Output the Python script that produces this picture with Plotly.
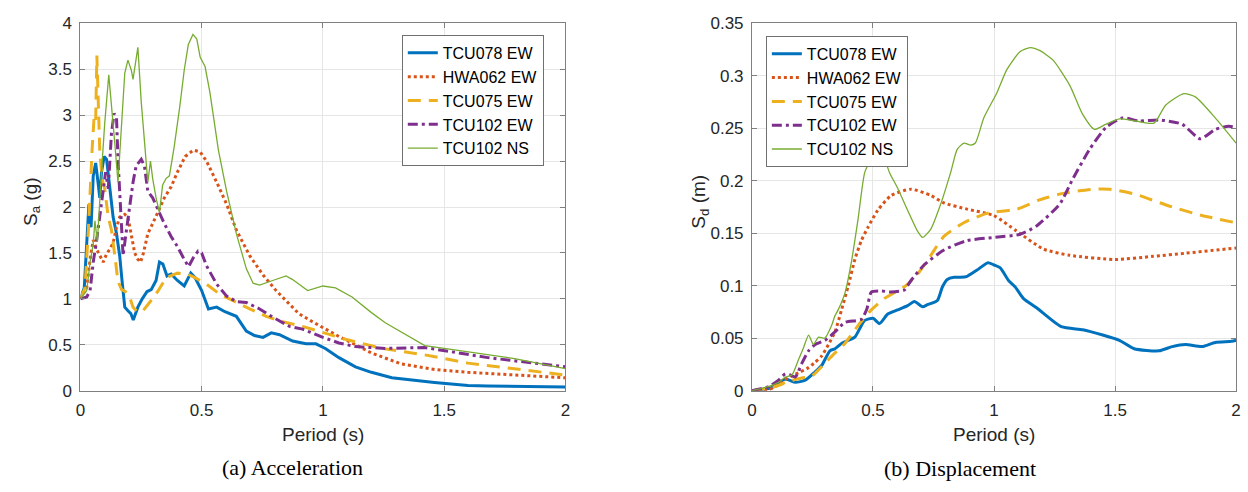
import plotly.graph_objects as go

# ---------------- (a) Spectral acceleration, Sa (g) ----------------
acc_t_tcu078ew = [0, 0.016, 0.035, 0.044, 0.053, 0.063, 0.074, 0.08, 0.087, 0.098, 0.108, 0.115,
                  0.121, 0.135, 0.149, 0.162, 0.172, 0.183, 0.196, 0.208, 0.218, 0.228, 0.237,
                  0.255, 0.275, 0.292, 0.312, 0.326, 0.34, 0.357, 0.374, 0.4, 0.428, 0.455, 0.473,
                  0.5, 0.528, 0.562, 0.596, 0.643, 0.684, 0.718, 0.753, 0.787, 0.821, 0.875, 0.93,
                  0.971, 1.01, 1.066, 1.134, 1.2, 1.284, 1.46, 1.598, 1.68, 2.0]
acc_tcu078ew = [1.0, 1.12, 2.03, 1.78, 2.34, 2.48, 2.24, 2.1, 2.38, 2.55, 2.52, 2.34,
                2.17, 1.89, 1.71, 1.47, 1.19, 0.91, 0.87, 0.84, 0.77, 0.84, 0.91,
                1.0, 1.08, 1.1, 1.2, 1.4, 1.38, 1.25, 1.27, 1.2, 1.14, 1.28, 1.23,
                1.09, 0.89, 0.91, 0.86, 0.81, 0.65, 0.6, 0.58, 0.63, 0.61, 0.54, 0.51,
                0.51, 0.46, 0.36, 0.26, 0.2, 0.14, 0.09, 0.056, 0.05, 0.04]

acc_t_hwa062ew = [0, 0.026, 0.04, 0.053, 0.067, 0.08, 0.094, 0.108, 0.121, 0.135, 0.149, 0.162,
                  0.183, 0.196, 0.21, 0.224, 0.237, 0.248, 0.26, 0.278, 0.298, 0.319, 0.346,
                  0.374, 0.4, 0.432, 0.466, 0.494, 0.52, 0.562, 0.603, 0.643, 0.698, 0.753,
                  0.807, 0.848, 0.9, 0.957, 1.01, 1.066, 1.134, 1.2, 1.325, 1.46, 1.598, 1.734, 2.0]
acc_hwa062ew = [1.0, 1.12, 1.43, 1.64, 1.54, 1.47, 1.4, 1.49, 1.54, 1.61, 1.78, 1.89,
                1.92, 1.89, 1.68, 1.5, 1.43, 1.4, 1.5, 1.71, 1.82, 1.94, 2.1,
                2.22, 2.38, 2.55, 2.62, 2.6, 2.5, 2.27, 2.03, 1.75, 1.47, 1.26,
                1.09, 0.98, 0.84, 0.75, 0.67, 0.59, 0.5, 0.41, 0.29, 0.23, 0.2, 0.18, 0.14]

acc_t_tcu075ew = [0, 0.019, 0.033, 0.044, 0.049, 0.057, 0.063, 0.068, 0.074, 0.08, 0.09, 0.1,
                  0.115, 0.128, 0.142, 0.155, 0.17, 0.185, 0.203, 0.217, 0.234, 0.258, 0.285,
                  0.319, 0.353, 0.4, 0.442, 0.466, 0.52, 0.575, 0.63, 0.698, 0.766, 0.834,
                  0.916, 1.0, 1.093, 1.243, 1.42, 1.598, 1.87, 2.0]
acc_tcu075ew = [1.0, 1.12, 1.75, 2.48, 2.66, 3.0, 2.95, 3.65, 3.0, 2.6, 2.3, 2.2,
                1.89, 1.75, 1.47, 1.19, 1.1, 1.08, 1.02, 0.91, 0.86, 0.87, 0.96,
                1.08, 1.23, 1.28, 1.27, 1.24, 1.16, 1.05, 0.98, 0.89, 0.81, 0.75,
                0.7, 0.63, 0.56, 0.46, 0.39, 0.3, 0.21, 0.17]

acc_t_tcu102ew = [0, 0.026, 0.04, 0.053, 0.067, 0.08, 0.094, 0.104, 0.115, 0.128, 0.139, 0.149,
                  0.155, 0.166, 0.176, 0.19, 0.203, 0.217, 0.23, 0.251, 0.264, 0.271, 0.278,
                  0.298, 0.326, 0.346, 0.374, 0.4, 0.428, 0.446, 0.466, 0.485, 0.5, 0.52,
                  0.562, 0.603, 0.643, 0.684, 0.739, 0.793, 0.862, 0.916, 1.0, 1.066, 1.134,
                  1.257, 1.42, 1.53, 1.68, 1.87, 2.0]
acc_tcu102ew = [1.0, 1.02, 1.09, 1.4, 1.64, 1.89, 2.17, 2.38, 2.2, 2.8, 3.02, 2.97,
                2.52, 1.96, 1.47, 1.75, 2.03, 2.27, 2.45, 2.52, 2.45, 2.31, 2.17,
                2.1, 1.94, 1.82, 1.68, 1.57, 1.43, 1.35, 1.45, 1.52, 1.5, 1.36,
                1.16, 1.03, 0.97, 0.96, 0.89, 0.8, 0.7, 0.67, 0.58, 0.52, 0.48,
                0.46, 0.47, 0.42, 0.36, 0.3, 0.26]

acc_t_tcu102ns = [0, 0.026, 0.04, 0.053, 0.06, 0.07, 0.085, 0.1, 0.117, 0.128, 0.142, 0.155,
                  0.169, 0.183, 0.196, 0.21, 0.217, 0.23, 0.237, 0.251, 0.264, 0.278, 0.289,
                  0.298, 0.312, 0.326, 0.339, 0.353, 0.367, 0.387, 0.41, 0.428, 0.445, 0.464,
                  0.48, 0.494, 0.514, 0.534, 0.569, 0.603, 0.643, 0.684, 0.712, 0.739, 0.793,
                  0.848, 0.875, 0.937, 1.0, 1.052, 1.12, 1.2, 1.257, 1.42, 1.5, 1.68, 1.79, 2.0]
acc_tcu102ns = [1.0, 1.09, 1.4, 1.6, 1.85, 1.62, 2.3, 2.9, 3.44, 3.14, 2.69, 2.27,
                2.87, 3.46, 3.6, 3.49, 3.39, 3.6, 3.74, 3.14, 2.69, 2.27, 2.5,
                2.31, 2.1, 1.94, 2.24, 2.31, 2.34, 2.66, 3.1, 3.49, 3.77, 3.88,
                3.83, 3.63, 3.53, 3.25, 2.62, 2.17, 1.71, 1.33, 1.17, 1.15, 1.2,
                1.25, 1.21, 1.09, 1.14, 1.12, 1.02, 0.85, 0.74, 0.49, 0.46, 0.39, 0.35, 0.24]

# ---------------- (b) Spectral displacement, Sd (m) ----------------
dis_t_tcu078ew = [0, 0.083, 0.138, 0.179, 0.22, 0.261, 0.288, 0.322, 0.343, 0.37, 0.398, 0.425,
                  0.445, 0.466, 0.5, 0.527, 0.561, 0.602, 0.643, 0.671, 0.705, 0.725, 0.766,
                  0.787, 0.807, 0.835, 0.862, 0.889, 0.93, 0.975, 0.998, 1.026, 1.06, 1.087,
                  1.121, 1.176, 1.278, 1.367, 1.449, 1.518, 1.579, 1.682, 1.736, 1.791, 1.859,
                  1.914, 1.982, 2.0]
dis_tcu078ew = [0, 0.003, 0.011, 0.008, 0.01, 0.018, 0.024, 0.038, 0.04, 0.045, 0.048, 0.051,
                0.059, 0.067, 0.069, 0.064, 0.073, 0.077, 0.081, 0.085, 0.08, 0.082, 0.086,
                0.099, 0.106, 0.108, 0.108, 0.109, 0.115, 0.122, 0.12, 0.117, 0.105, 0.099,
                0.088, 0.079, 0.061, 0.058, 0.053, 0.048, 0.04, 0.038, 0.042, 0.044, 0.042,
                0.046, 0.047, 0.048]

dis_t_hwa062ew = [0, 0.07, 0.097, 0.124, 0.165, 0.2, 0.227, 0.261, 0.288, 0.316, 0.343, 0.37,
                  0.398, 0.425, 0.452, 0.48, 0.52, 0.575, 0.657, 0.739, 0.793, 0.889, 0.998,
                  1.094, 1.204, 1.313, 1.5, 1.658, 1.791, 2.0]
dis_hwa062ew = [0, 0.001, 0.004, 0.009, 0.014, 0.018, 0.021, 0.027, 0.033, 0.044, 0.056, 0.077,
                0.1, 0.125, 0.143, 0.156, 0.172, 0.186, 0.192, 0.186, 0.179, 0.173, 0.167,
                0.152, 0.135, 0.129, 0.125, 0.128, 0.131, 0.136]

dis_t_tcu075ew = [0, 0.097, 0.152, 0.206, 0.247, 0.301, 0.343, 0.384, 0.438, 0.493, 0.548, 0.63,
                  0.684, 0.739, 0.793, 0.875, 0.971, 1.094, 1.19, 1.285, 1.408, 1.477, 1.586,
                  1.723, 1.859, 2.0]
dis_tcu075ew = [0, 0.004, 0.009, 0.012, 0.014, 0.026, 0.036, 0.045, 0.062, 0.077, 0.088, 0.099,
                0.111, 0.129, 0.147, 0.16, 0.169, 0.173, 0.182, 0.188, 0.192, 0.192, 0.187,
                0.176, 0.167, 0.16]

dis_t_tcu102ew = [0, 0.07, 0.11, 0.138, 0.158, 0.179, 0.206, 0.234, 0.261, 0.302, 0.343, 0.384,
                  0.452, 0.475, 0.493, 0.534, 0.575, 0.63, 0.657, 0.712, 0.793, 0.889, 0.998,
                  1.107, 1.176, 1.272, 1.326, 1.395, 1.463, 1.531, 1.6, 1.682, 1.777, 1.852,
                  1.914, 1.969, 2.0]
dis_tcu102ew = [0, 0.004, 0.01, 0.016, 0.015, 0.013, 0.026, 0.038, 0.044, 0.048, 0.056, 0.065,
                0.068, 0.078, 0.094, 0.095, 0.094, 0.096, 0.105, 0.12, 0.134, 0.143, 0.146,
                0.149, 0.157, 0.178, 0.202, 0.23, 0.251, 0.26, 0.257, 0.258, 0.254, 0.24,
                0.249, 0.252, 0.251]

dis_t_tcu102ns = [0, 0.07, 0.11, 0.138, 0.165, 0.193, 0.213, 0.234, 0.254, 0.275, 0.301, 0.329,
                  0.342, 0.356, 0.384, 0.411, 0.438, 0.466, 0.493, 0.518, 0.541, 0.568, 0.602,
                  0.643, 0.684, 0.705, 0.739, 0.78, 0.821, 0.848, 0.876, 0.903, 0.923, 0.958,
                  1.012, 1.053, 1.107, 1.149, 1.19, 1.244, 1.313, 1.367, 1.415, 1.463, 1.518,
                  1.586, 1.661, 1.709, 1.784, 1.832, 1.914, 2.0]
dis_tcu102ns = [0, 0.004, 0.008, 0.013, 0.015, 0.03, 0.041, 0.053, 0.044, 0.051, 0.05, 0.062,
                0.071, 0.077, 0.093, 0.123, 0.163, 0.208, 0.221, 0.23, 0.225, 0.208, 0.193,
                0.172, 0.152, 0.146, 0.154, 0.178, 0.208, 0.23, 0.236, 0.234, 0.236, 0.26,
                0.284, 0.306, 0.323, 0.327, 0.324, 0.315, 0.291, 0.263, 0.249, 0.254, 0.259,
                0.257, 0.255, 0.272, 0.283, 0.28, 0.26, 0.236]

series_names = ["TCU078 EW", "HWA062 EW", "TCU075 EW", "TCU102 EW", "TCU102 NS"]
colors = ["#0072BD", "#D95319", "#EDB120", "#7E2F8E", "#77AC30"]
dashes = ["solid", "3px,3px", "13px,8px", "10px,4px,3px,4px", "solid"]
widths = [3, 3, 3, 3, 1.3]

acc_series = [(acc_t_tcu078ew, acc_tcu078ew), (acc_t_hwa062ew, acc_hwa062ew),
              (acc_t_tcu075ew, acc_tcu075ew), (acc_t_tcu102ew, acc_tcu102ew),
              (acc_t_tcu102ns, acc_tcu102ns)]
dis_series = [(dis_t_tcu078ew, dis_tcu078ew), (dis_t_hwa062ew, dis_hwa062ew),
              (dis_t_tcu075ew, dis_tcu075ew), (dis_t_tcu102ew, dis_tcu102ew),
              (dis_t_tcu102ns, dis_tcu102ns)]

for t, v in acc_series + dis_series:
    assert len(t) == len(v), (len(t), len(v))

W, H = 1248, 492
fig = go.Figure()

for i, (t, v) in enumerate(acc_series):
    fig.add_trace(go.Scatter(
        x=t, y=v, mode="lines", name=series_names[i],
        line=dict(color=colors[i], width=widths[i], dash=dashes[i]),
        xaxis="x", yaxis="y", legend="legend"))

for i, (t, v) in enumerate(dis_series):
    fig.add_trace(go.Scatter(
        x=t, y=v, mode="lines", name=series_names[i],
        line=dict(color=colors[i], width=widths[i], dash=dashes[i], shape="spline", smoothing=0.6),
        xaxis="x2", yaxis="y2", legend="legend2"))

tick_font = dict(family="Liberation Sans, Arial, sans-serif", size=17, color="#262626")
axis_common = dict(
    showline=True, linecolor="#808080", linewidth=1, mirror="ticks",
    ticks="inside", ticklen=5, tickcolor="#808080", tickwidth=1,
    showgrid=True, gridcolor="#e6e6e6", gridwidth=1, zeroline=False,
    tickfont=tick_font,
)

yd = [1 - 397 / H, 1 - 15 / H]
fig.update_layout(
    width=W, height=H, autosize=False,
    margin=dict(l=0, r=0, t=0, b=0),
    paper_bgcolor="white", plot_bgcolor="white",
    xaxis=dict(domain=[76 / W, 565 / W], range=[0, 2], tickvals=[0, 0.5, 1, 1.5, 2],
               anchor="y", ticklabelstandoff=4, **axis_common),
    yaxis=dict(domain=yd, range=[0, 4], dtick=0.5, anchor="x", ticklabelstandoff=4, **axis_common),
    xaxis2=dict(domain=[753 / W, 1241 / W], range=[0, 2], tickvals=[0, 0.5, 1, 1.5, 2],
                anchor="y2", ticklabelstandoff=4, **axis_common),
    yaxis2=dict(domain=yd, range=[0, 0.35], dtick=0.05, anchor="x2", ticklabelstandoff=4,
                **axis_common),
    legend=dict(x=400 / W, y=1 - 27 / H, xanchor="left", yanchor="top",
                bgcolor="white", bordercolor="#707070", borderwidth=1,
                font=dict(family="Liberation Sans, Arial, sans-serif", size=16, color="#000000"),
                tracegroupgap=0),
    legend2=dict(x=767 / W, y=1 - 28 / H, xanchor="left", yanchor="top",
                 bgcolor="white", bordercolor="#707070", borderwidth=1,
                 font=dict(family="Liberation Sans, Arial, sans-serif", size=16, color="#000000"),
                 tracegroupgap=0),
    showlegend=True,
)

label_font = dict(family="Liberation Sans, Arial, sans-serif", size=19, color="#262626")
cap_font = dict(family="Liberation Serif, Times New Roman, serif", size=22, color="#000000")
annos = [
    dict(text="Period (s)", x=320.5 / W, y=1 - 443 / H, font=label_font),
    dict(text="Period (s)", x=997 / W, y=1 - 443 / H, font=label_font),
    dict(text="S<sub>a</sub> (g)", x=27 / W, y=1 - 200 / H, textangle=-90, font=label_font),
    dict(text="S<sub>d</sub> (m)", x=701 / W, y=1 - 200 / H, textangle=-90, font=label_font),
    dict(text="(a) Acceleration", x=290 / W, y=1 - 477 / H, font=cap_font),
    dict(text="(b) Displacement", x=963 / W, y=1 - 478 / H, font=cap_font),
]
for a in annos:
    fig.add_annotation(xref="paper", yref="paper", xanchor="center", yanchor="middle",
                       showarrow=False, **a)

fig.write_html("out.html")
